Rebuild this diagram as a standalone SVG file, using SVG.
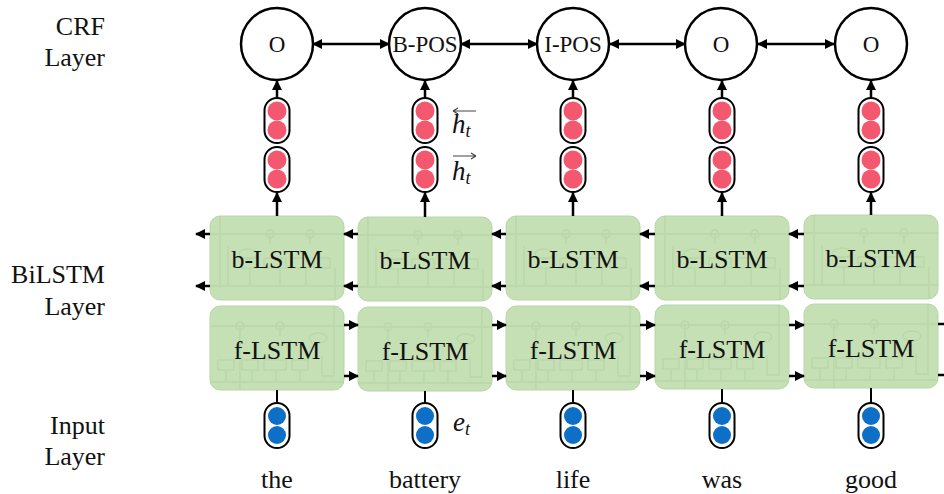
<svg xmlns="http://www.w3.org/2000/svg" width="944" height="494" viewBox="0 0 944 494">
<style>
.lbl{font-family:"Liberation Serif","Times New Roman","DejaVu Serif",serif;font-size:26px;fill:#111}
.crf{font-family:"Liberation Serif","Times New Roman","DejaVu Serif",serif;font-size:23px;fill:#111}
.cell{font-family:"Liberation Serif","Times New Roman","DejaVu Serif",serif;font-size:26px;fill:#111}
.math{font-family:"Liberation Serif","Times New Roman","DejaVu Serif",serif;font-size:27px;font-style:italic;fill:#111}
.sub{font-size:18px}
.circ{fill:#fff;stroke:#000;stroke-width:2.5}
.box{fill:#c5e0b4;stroke:#b8d6a6;stroke-width:1}
.inner{fill:none;stroke:#b0cf9f;stroke-width:1.3}
.pill{fill:#fff;stroke:#000;stroke-width:2}
.red{fill:#f4586f}
.blue{fill:#0d6fc6}
.ar{stroke:#000;stroke-width:2.5;fill:none}
.pl{stroke:#000;stroke-width:2}
.vec{stroke:#444;stroke-width:1.2;fill:none}
</style>
<defs>
<marker id="ah" viewBox="0 0 10 10" refX="9" refY="5" markerWidth="4" markerHeight="4" orient="auto-start-reverse" markerUnits="strokeWidth">
<path d="M0,0 L10,5 L0,10 z" fill="#000"/>
</marker>
<g id="binner">
<path class="inner" d="M0,18 H134 M10,0 V72 M18,30 V70 H6 M60,18 V28 M100,18 V28 M0,70 H134 M125,52 V84 M40,52 V70 M70,52 V70 M96,52 V70"/>
<circle class="inner" cx="60" cy="18" r="4"/><circle class="inner" cx="100" cy="18" r="4"/>
<ellipse class="inner" cx="38" cy="38" rx="9" ry="5"/>
<rect class="inner" x="32" y="42" width="16" height="10"/><rect class="inner" x="54" y="42" width="22" height="10"/><rect class="inner" x="82" y="42" width="16" height="10"/><rect class="inner" x="104" y="42" width="16" height="10"/>
</g>
<g id="finner">
<path class="inner" d="M0,20 H134 M0,76 H134 M30,20 V84 M70,20 V30 M124,0 V70 H112 V50 M16,64 V76 M42,64 V76 M66,64 V76 M90,64 V76"/>
<circle class="inner" cx="30" cy="20" r="4"/><circle class="inner" cx="70" cy="20" r="4"/>
<ellipse class="inner" cx="108" cy="32" rx="9" ry="5"/>
<rect class="inner" x="8" y="54" width="16" height="10"/><rect class="inner" x="32" y="54" width="16" height="10"/><rect class="inner" x="54" y="54" width="22" height="10"/><rect class="inner" x="82" y="54" width="16" height="10"/>
</g>
<g id="rpill">
<rect class="pill" x="-12.5" y="0" width="25" height="45" rx="12.5"/>
<circle class="red" cx="0" cy="13" r="9.5"/><circle class="red" cx="0" cy="32" r="9.5"/>
</g>
<g id="bpill">
<rect class="pill" x="-12.5" y="0" width="25" height="45" rx="12.5"/>
<circle class="blue" cx="0" cy="13" r="9"/><circle class="blue" cx="0" cy="32" r="9"/>
</g>
</defs>
<rect width="944" height="494" fill="#fff"/>

<g id="layer-labels">
<text class="lbl" x="105" y="35" text-anchor="end">CRF</text>
<text class="lbl" x="105" y="66" text-anchor="end">Layer</text>
<text class="lbl" x="105" y="283" text-anchor="end">BiLSTM</text>
<text class="lbl" x="105" y="315" text-anchor="end">Layer</text>
<text class="lbl" x="105" y="434" text-anchor="end">Input</text>
<text class="lbl" x="105" y="465" text-anchor="end">Layer</text>
</g>

<g id="lstm-cells">
<g id="b1"><rect class="box" x="210" y="216" width="134" height="84" rx="10"/><use href="#binner" x="210" y="216" opacity="0.5"/><text class="cell" x="277" y="268" text-anchor="middle">b-LSTM</text></g>
<g id="b2"><rect class="box" x="358" y="217" width="134" height="84" rx="10"/><use href="#binner" x="358" y="217" opacity="0.5"/><text class="cell" x="425" y="269" text-anchor="middle">b-LSTM</text></g>
<g id="b3"><rect class="box" x="506" y="216" width="134" height="84" rx="10"/><use href="#binner" x="506" y="216" opacity="0.5"/><text class="cell" x="573" y="268" text-anchor="middle">b-LSTM</text></g>
<g id="b4"><rect class="box" x="655" y="216" width="134" height="84" rx="10"/><use href="#binner" x="655" y="216" opacity="0.5"/><text class="cell" x="722" y="268" text-anchor="middle">b-LSTM</text></g>
<g id="b5"><rect class="box" x="804" y="215" width="134" height="84" rx="10"/><use href="#binner" x="804" y="215" opacity="0.5"/><text class="cell" x="871" y="267" text-anchor="middle">b-LSTM</text></g>
<g id="f1"><rect class="box" x="210" y="306" width="134" height="84" rx="10"/><use href="#finner" x="210" y="306" opacity="0.5"/><text class="cell" x="277" y="359" text-anchor="middle">f-LSTM</text></g>
<g id="f2"><rect class="box" x="358" y="307" width="134" height="84" rx="10"/><use href="#finner" x="358" y="307" opacity="0.5"/><text class="cell" x="425" y="360" text-anchor="middle">f-LSTM</text></g>
<g id="f3"><rect class="box" x="506" y="306" width="134" height="84" rx="10"/><use href="#finner" x="506" y="306" opacity="0.5"/><text class="cell" x="573" y="359" text-anchor="middle">f-LSTM</text></g>
<g id="f4"><rect class="box" x="655" y="305" width="134" height="84" rx="10"/><use href="#finner" x="655" y="305" opacity="0.5"/><text class="cell" x="722" y="358" text-anchor="middle">f-LSTM</text></g>
<g id="f5"><rect class="box" x="804" y="304" width="134" height="84" rx="10"/><use href="#finner" x="804" y="304" opacity="0.5"/><text class="cell" x="871" y="357" text-anchor="middle">f-LSTM</text></g>
</g>

<g id="connectors">
<line class="ar" x1="313" y1="44" x2="389" y2="44" marker-start="url(#ah)" marker-end="url(#ah)"/>
<line class="ar" x1="461" y1="44" x2="537" y2="44" marker-start="url(#ah)" marker-end="url(#ah)"/>
<line class="ar" x1="610" y1="44" x2="685" y2="44" marker-start="url(#ah)" marker-end="url(#ah)"/>
<line class="ar" x1="758" y1="44" x2="834" y2="44" marker-start="url(#ah)" marker-end="url(#ah)"/>
<line class="ar" x1="277" y1="98" x2="277" y2="81" marker-end="url(#ah)"/>
<line class="ar" x1="425" y1="98" x2="425" y2="81" marker-end="url(#ah)"/>
<line class="ar" x1="573" y1="98" x2="573" y2="81" marker-end="url(#ah)"/>
<line class="ar" x1="722" y1="98" x2="722" y2="81" marker-end="url(#ah)"/>
<line class="ar" x1="871" y1="98" x2="871" y2="81" marker-end="url(#ah)"/>
<line class="ar" x1="277" y1="216" x2="277" y2="193" marker-end="url(#ah)"/>
<line class="ar" x1="425" y1="217" x2="425" y2="193" marker-end="url(#ah)"/>
<line class="ar" x1="573" y1="216" x2="573" y2="193" marker-end="url(#ah)"/>
<line class="ar" x1="722" y1="216" x2="722" y2="193" marker-end="url(#ah)"/>
<line class="ar" x1="871" y1="215" x2="871" y2="193" marker-end="url(#ah)"/>
<line class="ar" x1="210" y1="234" x2="196" y2="234" marker-end="url(#ah)"/>
<line class="ar" x1="210" y1="286" x2="196" y2="286" marker-end="url(#ah)"/>
<line class="ar" x1="358" y1="234" x2="344" y2="234" marker-end="url(#ah)"/>
<line class="ar" x1="358" y1="286" x2="344" y2="286" marker-end="url(#ah)"/>
<line class="ar" x1="506" y1="234" x2="492" y2="234" marker-end="url(#ah)"/>
<line class="ar" x1="506" y1="286" x2="492" y2="286" marker-end="url(#ah)"/>
<line class="ar" x1="655" y1="234" x2="640" y2="234" marker-end="url(#ah)"/>
<line class="ar" x1="655" y1="286" x2="640" y2="286" marker-end="url(#ah)"/>
<line class="ar" x1="804" y1="234" x2="789" y2="234" marker-end="url(#ah)"/>
<line class="ar" x1="804" y1="286" x2="789" y2="286" marker-end="url(#ah)"/>
<line class="ar" x1="344" y1="325" x2="358" y2="325" marker-end="url(#ah)"/>
<line class="ar" x1="344" y1="376" x2="358" y2="376" marker-end="url(#ah)"/>
<line class="ar" x1="492" y1="325" x2="506" y2="325" marker-end="url(#ah)"/>
<line class="ar" x1="492" y1="376" x2="506" y2="376" marker-end="url(#ah)"/>
<line class="ar" x1="640" y1="325" x2="655" y2="325" marker-end="url(#ah)"/>
<line class="ar" x1="640" y1="376" x2="655" y2="376" marker-end="url(#ah)"/>
<line class="ar" x1="789" y1="325" x2="804" y2="325" marker-end="url(#ah)"/>
<line class="ar" x1="789" y1="376" x2="804" y2="376" marker-end="url(#ah)"/>
<line class="ar" x1="938" y1="324" x2="946" y2="324"/>
<line class="ar" x1="938" y1="375" x2="946" y2="375"/>
<line class="pl" x1="277" y1="390" x2="277" y2="403"/>
<line class="pl" x1="425" y1="391" x2="425" y2="403"/>
<line class="pl" x1="573" y1="390" x2="573" y2="403"/>
<line class="pl" x1="722" y1="389" x2="722" y2="403"/>
<line class="pl" x1="871" y1="388" x2="871" y2="403"/>
</g>

<g id="crf-nodes">
<g id="c1"><circle class="circ" cx="277" cy="44" r="36"/><text class="crf" x="277" y="52" text-anchor="middle">O</text></g>
<g id="c2"><circle class="circ" cx="425" cy="44" r="36"/><text class="crf" x="425" y="52" text-anchor="middle">B-POS</text></g>
<g id="c3"><circle class="circ" cx="573" cy="44" r="36"/><text class="crf" x="573" y="52" text-anchor="middle">I-POS</text></g>
<g id="c4"><circle class="circ" cx="721" cy="44" r="36"/><text class="crf" x="721" y="52" text-anchor="middle">O</text></g>
<g id="c5"><circle class="circ" cx="871" cy="44" r="36"/><text class="crf" x="871" y="52" text-anchor="middle">O</text></g>
</g>

<g id="hidden-vectors">
<use href="#rpill" x="277" y="98"/><use href="#rpill" x="277" y="147"/>
<use href="#rpill" x="425" y="98"/><use href="#rpill" x="425" y="147"/>
<use href="#rpill" x="573" y="98"/><use href="#rpill" x="573" y="147"/>
<use href="#rpill" x="722" y="98"/><use href="#rpill" x="722" y="147"/>
<use href="#rpill" x="871" y="98"/><use href="#rpill" x="871" y="147"/>
</g>

<g id="h-labels">
<text class="math" x="452" y="133">h<tspan class="sub" dy="4">t</tspan></text>
<path class="vec" d="M453,111 H476 M453,111 l5,-3 M453,111 l5,3"/>
<text class="math" x="452" y="180">h<tspan class="sub" dy="4">t</tspan></text>
<path class="vec" d="M453,156 H476 M476,156 l-5,-3 M476,156 l-5,3"/>
</g>

<g id="input-vectors">
<use href="#bpill" x="277" y="403"/>
<use href="#bpill" x="425" y="403"/>
<use href="#bpill" x="573" y="403"/>
<use href="#bpill" x="722" y="403"/>
<use href="#bpill" x="871" y="403"/>
<text class="math" x="453" y="431">e<tspan class="sub" dy="4">t</tspan></text>
</g>

<g id="words">
<text class="lbl" x="277" y="488" text-anchor="middle">the</text>
<text class="lbl" x="425" y="488" text-anchor="middle">battery</text>
<text class="lbl" x="573" y="488" text-anchor="middle">life</text>
<text class="lbl" x="722" y="488" text-anchor="middle">was</text>
<text class="lbl" x="871" y="488" text-anchor="middle">good</text>
</g>
</svg>
